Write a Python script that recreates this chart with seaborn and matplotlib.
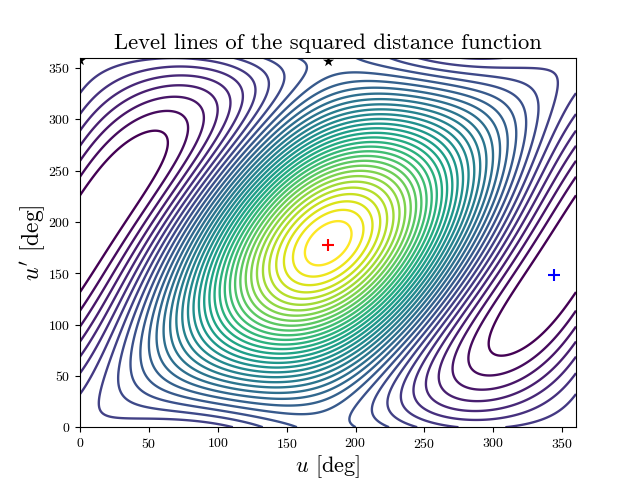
import numpy as np
import pandas as pd
import matplotlib
matplotlib.use("Agg")
import matplotlib.pyplot as plt
import seaborn as sns

# orbit parameters estimated from the level ordering in the picture
a1, e1 = 2.77, 0.444
a2, e2 = 1.335, 0.228
node_angle = 1.0
incl = 12.0
n_levels = 37
level_shift = 0.2

# critical points
max_u, max_v = [180], [177]
min_u, min_v = [344], [148]
star_u, star_v = [0, 180], [358, 357]

x_ticks = [0, 50, 100, 150, 200, 250, 300, 350]
y_ticks = [0, 50, 100, 150, 200, 250, 300, 350]

sns.set_style("ticks")
plt.rcParams["font.family"] = ["cmr10", "DejaVu Sans"]
plt.rcParams["mathtext.fontset"] = "cm"
plt.rcParams["axes.formatter.use_mathtext"] = True
plt.rcParams["axes.unicode_minus"] = False
plt.rcParams["text.color"] = "black"
plt.rcParams["axes.labelcolor"] = "black"


def squared_distance(u, v):
    # position on orbit 1
    x1 = a1 * (np.cos(u) - e1)
    y1 = a1 * np.sqrt(1 - e1**2) * np.sin(u)
    # position on orbit 2, apsides opposite to orbit 1
    x2 = -a2 * (np.cos(v) - e2)
    y2 = -a2 * np.sqrt(1 - e2**2) * np.sin(v)
    w, i = np.radians(node_angle), np.radians(incl)
    xr = x2 * np.cos(w) - y2 * np.sin(w)
    yr = x2 * np.sin(w) + y2 * np.cos(w)
    return (x1 - xr)**2 + (y1 - yr * np.cos(i))**2 + (yr * np.sin(i))**2


grid = np.radians(np.linspace(0, 360, 361))
U, V = np.meshgrid(grid, grid)
D = squared_distance(U, V)

step = (D.max() - D.min()) / (n_levels + 1)
levels = D.min() + step * (np.arange(1, n_levels + 1) + level_shift)

fig, ax = plt.subplots(figsize=(6.4, 4.8), dpi=100)
ax.contour(np.degrees(U), np.degrees(V), D, levels=levels,
           cmap=sns.color_palette("viridis", as_cmap=True), linewidths=1.7)

sns.scatterplot(x=max_u, y=max_v, marker="+", color="red", s=75, linewidth=1.5, ax=ax, zorder=5)
sns.scatterplot(x=min_u, y=min_v, marker="+", color="blue", s=75, linewidth=1.5, ax=ax, zorder=5)
sns.scatterplot(x=star_u, y=star_v, marker="*", color="black", s=70, linewidth=0, ax=ax, zorder=5)

ax.set_xlim(0, 360)
ax.set_ylim(0, 360)
ax.set_xticks(x_ticks)
ax.set_yticks(y_ticks)
ax.tick_params(labelsize=10, length=3.5, width=0.8, color="black", labelcolor="black")
for side in ax.spines.values():
    side.set_linewidth(0.8)
    side.set_color("black")
ax.set_xlabel(r"$u$ [deg]", fontsize=16, labelpad=2)
ax.set_ylabel(r"$u'$ [deg]", fontsize=17, labelpad=1)
ax.set_title("Level lines of the squared distance function", fontsize=16.3, color="black")
fig.savefig("out.png", dpi=100)
